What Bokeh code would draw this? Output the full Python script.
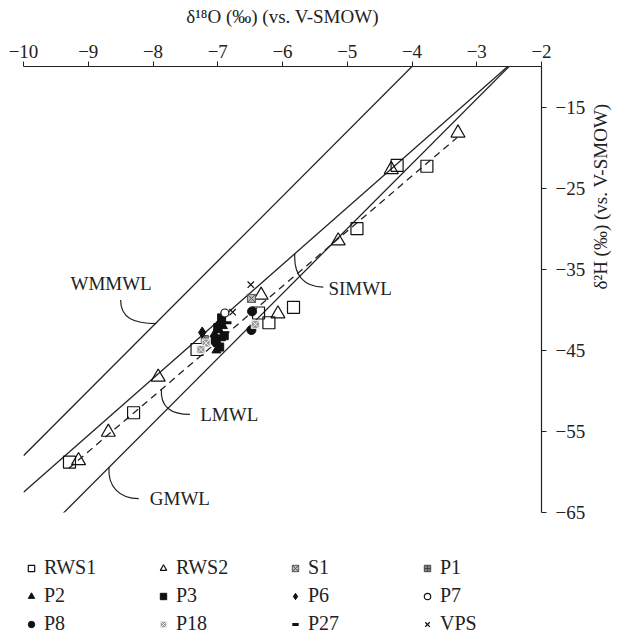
import math
from bokeh.plotting import figure
from bokeh.layouts import column
from bokeh.models import Range1d, Legend, LegendItem, FixedTicker, CustomJSTickFormatter
from bokeh.core.properties import value
from bokeh.embed import file_html
from bokeh.resources import INLINE
import numpy as np

FONT = "Liberation Serif"

# ---------------- data (δ18O, δ2H) ----------------
rws1_x = [-9.29, -8.30, -7.32, -6.37, -6.21, -5.83, -4.85, -4.23, -3.77]
rws1_y = [-58.8, -52.7, -44.9, -40.4, -41.6, -39.7, -30.0, -22.2, -22.3]
rws2_x = [-9.15, -8.69, -7.92, -6.33, -6.07, -5.14, -4.32, -3.29]
rws2_y = [-58.6, -55.1, -48.3, -38.2, -40.5, -31.5, -22.7, -18.2]
s1_x = [-6.48]
s1_y = [-38.6]
p1_x = [-7.20]
p1_y = [-43.6]
p2_x = [-7.05, -7.00, -6.98, -6.95, -6.92, -7.02]
p2_y = [-43.0, -44.2, -42.5, -43.5, -42.0, -45.0]
p3_x = [-6.94, -7.04, -6.97, -7.00, -6.90]
p3_y = [-41.0, -43.6, -44.6, -42.2, -43.2]
p6_x = [-7.24]
p6_y = [-42.8]
p7_x = [-6.89]
p7_y = [-40.4]
p8_x = [-6.47, -6.48, -7.03, -6.96]
p8_y = [-40.2, -42.5, -44.0, -41.8]
p18_x = [-7.18, -7.26, -6.42]
p18_y = [-44.1, -44.9, -41.8]
p27_x = [-6.85]
p27_y = [-41.6]
vps_x = [-6.49, -6.77]
vps_y = [-36.9, -40.3]

# meteoric water lines: slope, intercept
gmwl = (8.0, 10.0)
wmmwl = (8.0, 22.0)
simwl = (7.02, 7.7)
lmwl = (6.8, 3.7)
lmwl_span = [-9.3, -3.3]

x_ticks = [-10, -9, -8, -7, -6, -5, -4, -3, -2]
y_ticks = [-15, -25, -35, -45, -55, -65]

series = {
    "RWS1": (rws1_x, rws1_y), "RWS2": (rws2_x, rws2_y), "S1": (s1_x, s1_y), "P1": (p1_x, p1_y),
    "P2": (p2_x, p2_y), "P3": (p3_x, p3_y), "P6": (p6_x, p6_y), "P7": (p7_x, p7_y),
    "P8": (p8_x, p8_y), "P18": (p18_x, p18_y), "P27": (p27_x, p27_y), "VPS": (vps_x, vps_y),
}
order = ["RWS1", "RWS2", "S1", "P1", "P2", "P3", "P6", "P7", "P8", "P18", "P27", "VPS"]

K = "#111111"
styles = {
    "RWS1": dict(marker="square", size=12, fill_color="white", fill_alpha=0, line_color=K, line_width=1.2),
    "RWS2": dict(marker="triangle", size=14, fill_color="white", fill_alpha=0, line_color=K, line_width=1.2),
    "S1": dict(marker="square_x", size=8, fill_color="#bbbbbb", line_color="#555555", line_width=1),
    "P1": dict(marker="square_cross", size=7, fill_color="#888888", line_color="#444444", line_width=1),
    "P2": dict(marker="triangle", size=9, fill_color=K, line_color=K),
    "P3": dict(marker="square", size=8, fill_color=K, line_color=K),
    "P6": dict(marker="diamond", size=11, fill_color=K, line_color=K),
    "P7": dict(marker="circle", size=8, fill_color="white", line_color=K, line_width=1.2),
    "P8": dict(marker="circle", size=9, fill_color=K, line_color=K),
    "P18": dict(marker="square_x", size=8, fill_color="#999999", line_color="#eeeeee", line_width=1),
    "P27": dict(marker="dash", size=8, line_color=K, line_width=3),
    "VPS": dict(marker="x", size=9, line_color=K, line_width=1.2),
}

p = figure(width=624, height=530, output_backend="svg", toolbar_location=None,
           x_range=Range1d(-10, -2), y_range=Range1d(-65, -10),
           x_axis_location="above", y_axis_location="right",
           min_border_left=23, min_border_right=76, min_border_top=66, min_border_bottom=18)
p.outline_line_color = None
p.grid.visible = False

xa = p.xaxis[0]
xa.ticker = FixedTicker(ticks=x_ticks)
xa.axis_label = "δ¹⁸O (‰) (vs. V-SMOW)"
ya = p.yaxis[0]
ya.ticker = FixedTicker(ticks=y_ticks)
ya.axis_label = "δ²H (‰) (vs. V-SMOW)"
ya.axis_label_orientation = math.pi / 2
minus_fmt = CustomJSTickFormatter(code="return (tick < 0 ? '\u2212' + Math.abs(tick) : '' + tick);")
for ax in (xa, ya):
    ax.formatter = minus_fmt
    ax.minor_tick_line_color = None
    ax.major_tick_out = 5
    ax.major_tick_in = 0
    ax.axis_line_color = "#222222"
    ax.major_tick_line_color = "#222222"
    ax.axis_line_width = 1.2
    ax.major_label_text_font = FONT
    ax.major_label_text_font_size = "19px"
    ax.major_label_text_color = "#222222"
    ax.axis_label_text_font = FONT
    ax.axis_label_text_font_size = "19px"
    ax.axis_label_text_font_style = "normal"
    ax.axis_label_text_color = "#222222"
xa.major_label_standoff = 4
xa.axis_label_standoff = 15
ya.major_label_standoff = 9
ya.axis_label_standoff = 12

# meteoric water lines
xs_full = np.array([-10.0, -2.0])
for m, c in (gmwl, wmmwl, simwl):
    p.line(xs_full, m * xs_full + c, line_color="#222222", line_width=1.3)
xl = np.array(lmwl_span)
p.line(xl, lmwl[0] * xl + lmwl[1], line_color="#222222", line_width=1.3, line_dash="7 5")

# leader curves (annotation): start point, end point, two control points
leaders = [
    (-8.50, -38.8, -7.95, -41.7, -8.50, -41.0, -8.30, -41.7),   # WMMWL (from label down to line)
    (-5.81, -33.1, -5.37, -37.2, -5.83, -35.8, -5.66, -37.2),   # SIMWL
    (-7.87, -49.8, -7.43, -52.9, -7.89, -52.0, -7.72, -52.9),   # LMWL
    (-8.68, -59.4, -8.22, -63.3, -8.70, -61.8, -8.52, -63.3),   # GMWL
]
for x0, y0, x1, y1, cx0, cy0, cx1, cy1 in leaders:
    p.bezier(x0=[x0], y0=[y0], x1=[x1], y1=[y1], cx0=[cx0], cy0=[cy0], cx1=[cx1], cy1=[cy1],
             line_color="#222222", line_width=1.2)

# line names (annotation text)
names = [("WMMWL", -8.02, -36.7, "right"), ("SIMWL", -5.29, -37.4, "left"),
         ("LMWL", -7.27, -52.9, "left"), ("GMWL", -8.05, -63.3, "left")]
for name, tx, ty, al in names:
    p.text(x=[tx], y=[ty], text=[name], text_font=value(FONT), text_font_size="19px",
           text_baseline="middle", text_align=al, text_color="#222222")

for k in order:
    xs, ys = series[k]
    p.scatter(xs, ys, **styles[k])

# legend panel (separate figure below the chart)
lg = figure(width=624, height=105, output_backend="svg", toolbar_location=None,
            x_range=Range1d(0, 1), y_range=Range1d(0, 1),
            x_axis_location=None, y_axis_location=None,
            min_border_left=0, min_border_right=0, min_border_top=0, min_border_bottom=0)
lg.grid.visible = False
lg.outline_line_color = None
items = []
for k in order:
    # one off-screen point so that the legend can draw the marker
    rr = lg.scatter(x=[5.0], y=[5.0], **styles[k])
    items.append(LegendItem(label=k, renderers=[rr]))
legend = Legend(items=items, orientation="horizontal", ncols=4, location=(0, 0),
                border_line_color=None, background_fill_alpha=0,
                label_text_font=FONT, label_text_font_size="20px", label_text_color="#222222",
                glyph_width=16, glyph_height=20, label_standoff=5, spacing=5,
                label_width=106, padding=0, margin=0)
lg.add_layout(legend, "center")

open("out.html", "w").write(file_html(column(p, lg, spacing=0), INLINE))
